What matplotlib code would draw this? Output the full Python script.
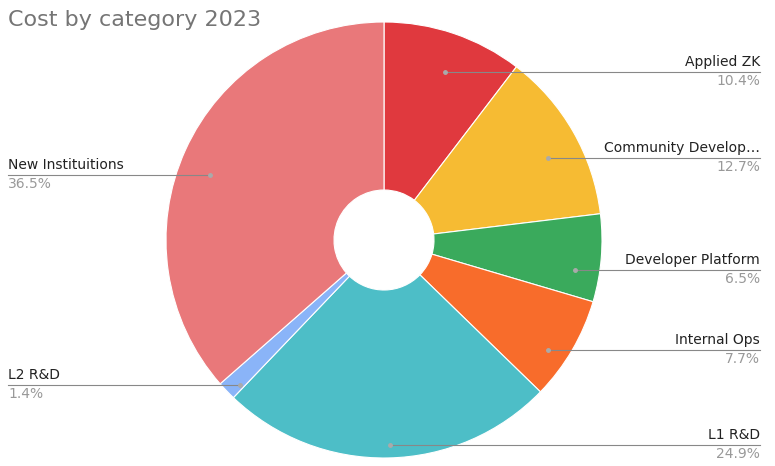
import matplotlib.pyplot as plt

categories = ["Applied ZK", "Community Develop…", "Developer Platform", "Internal Ops",
              "L1 R&D", "L2 R&D", "New Instituitions"]
shares = [10.4, 12.7, 6.5, 7.7, 24.9, 1.4, 36.5]
colors = ["#e0393e", "#f6bb33", "#3aaa5c", "#f86c2b", "#4dbec7", "#8ab4f8", "#e9787a"]

# label placement in pixel space: (dot x, dot y, text x, side)
label_pos = [(445, 72, 760, "r"), (548, 158, 760, "r"), (575, 270, 760, "r"),
             (548, 350, 760, "r"), (390, 445, 760, "r"), (240, 385, 8, "l"),
             (210, 175, 8, "l")]

W, H = 775, 466
fig = plt.figure(figsize=(7.75, 4.66), dpi=100)
ax = fig.add_axes([0, 0, 1, 1])
ax.set_xlim(0, W)
ax.set_ylim(0, H)
ax.set_aspect("equal")
ax.axis("off")

cx, cy, r = 384, H - 240, 218
ax.pie(shares, colors=colors, startangle=90, counterclock=False, center=(cx, cy),
       radius=r, wedgeprops=dict(width=r - 50, edgecolor="white", linewidth=0.8),
       frame=True)
ax.set_xlim(0, W)
ax.set_ylim(0, H)
ax.axis("off")

for name, val, (dx, dy, tx, side) in zip(categories, shares, label_pos):
    y = H - dy
    ax.plot([dx, tx], [y, y], color="#888888", lw=0.8)
    ax.plot(dx, y, "o", color="#aaaaaa", ms=2.5)
    ha = "right" if side == "r" else "left"
    ax.text(tx, y + 3, name, ha=ha, va="bottom", fontsize=10, color="#222222")
    ax.text(tx, y - 2, f"{val}%", ha=ha, va="top", fontsize=10, color="#999999")

fig.text(8 / W, 1 - 20 / H, "Cost by category 2023", fontsize=16, color="#757575", va="center")
fig.savefig("out.png", dpi=100)
